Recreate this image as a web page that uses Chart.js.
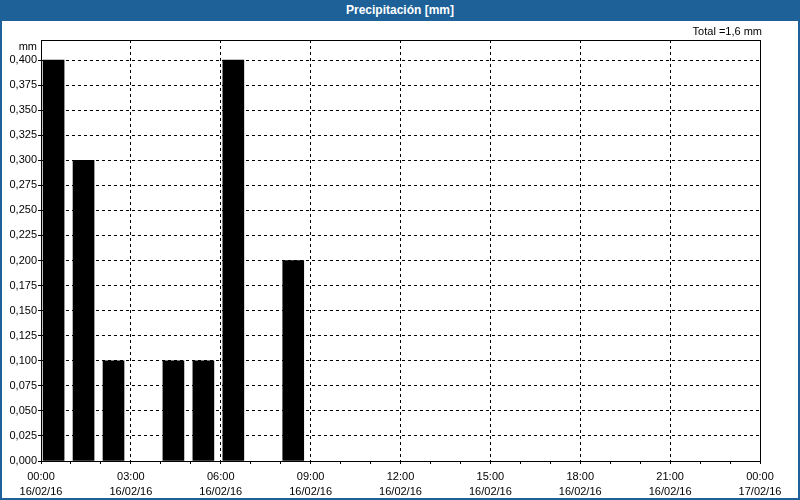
<!DOCTYPE html>
<html>
<head>
<meta charset="utf-8">
<script src="https://cdn.jsdelivr.net/npm/chart.js@4/dist/chart.umd.min.js"></script>
<style>
  html, body { margin: 0; padding: 0; background: #fff; }
  #wrap { position: relative; width: 800px; height: 500px; overflow: hidden; }
  #chart { position: absolute; left: 0; top: 0; }
  #frame {
    position: absolute; left: 0; top: 0; width: 800px; height: 500px; box-sizing: border-box;
    border: 2px solid #1d6198; border-top: 0; pointer-events: none;
  }
  #title {
    position: absolute; left: 0; top: 0; width: 800px; height: 21px; background: #1d6198;
    color: #fff; font: bold 12px "Liberation Sans", Arial, sans-serif; text-align: center; line-height: 21px;
  }
</style>
</head>
<body>
<div id="wrap">
  <canvas id="chart" width="800" height="500"></canvas>
  <div id="frame"></div>
  <div id="title">Precipitación [mm]</div>
</div>
<script>
// hourly rainfall, 16/02/16
const hours = [0, 1, 2, 4, 5, 6, 8]
const rainMm = [0.4, 0.3, 0.1, 0.1, 0.1, 0.4, 0.2]
const timeLabels = ['00:00', '03:00', '06:00', '09:00', '12:00', '15:00', '18:00', '21:00', '00:00']
const dateLabels = ['16/02/16', '16/02/16', '16/02/16', '16/02/16', '16/02/16', '16/02/16', '16/02/16', '16/02/16', '17/02/16']
const totalText = 'Total =1,6 mm'
const unitText = 'mm'

const BAR_SHIFT = 0.42 // bars sit just right of the hour mark
const FONT = '"Liberation Sans", Arial, sans-serif'

const points = hours.map((h, i) => ({x: h + BAR_SHIFT, y: rainMm[i]}))

const frameAndLabels = {
    id: 'frame-and-labels',
    afterDraw(chart) {
        const {ctx, chartArea: a} = chart
        ctx.save()
        ctx.strokeStyle = '#000'
        ctx.lineWidth = 1
        ctx.setLineDash([])
        const top = Math.round(a.top - 0.5) + 0.5
        const right = Math.round(a.right - 0.5) + 0.5
        ctx.beginPath()
        ctx.moveTo(a.left, top)
        ctx.lineTo(right, top)
        ctx.lineTo(right, a.bottom)
        ctx.stroke()

        ctx.fillStyle = '#000'
        ctx.font = '11px ' + FONT
        ctx.textBaseline = 'middle'
        ctx.textAlign = 'right'
        ctx.fillText(totalText, a.right + 2, a.top - 8)
        ctx.fillText(unitText, a.left - 4, a.top + 7)
        ctx.restore()
    },
}

new Chart(document.getElementById('chart'), {
    type: 'bar',
    data: {
        datasets: [{
            data: points,
            backgroundColor: '#000',
            borderWidth: 0,
            barThickness: 21,
        }],
    },
    options: {
        responsive: false,
        animation: false,
        layout: {padding: {left: 0, top: 40, right: 40, bottom: 0}},
        plugins: {
            legend: {display: false},
            tooltip: {enabled: false},
            title: {display: false},
        },
        scales: {
            x: {
                type: 'linear',
                min: 0,
                max: 24,
                offset: false,
                afterFit: s => { s.height = 39 },
                grid: {
                    offset: false,
                    color: c => (c.tick && c.tick.value % 3 === 0) ? '#000' : 'rgba(0,0,0,0)',
                    tickColor: '#000',
                    tickLength: 3,
                    lineWidth: 1,
                },
                border: {color: '#000', width: 1, dash: [3, 3]},
                ticks: {
                    stepSize: 1,
                    maxTicksLimit: 100,
                    autoSkip: false,
                    maxRotation: 0,
                    minRotation: 0,
                    padding: 5,
                    color: '#000',
                    font: {family: FONT, size: 11, lineHeight: '15px'},
                    callback: v => v % 3 === 0 ? [timeLabels[v / 3], dateLabels[v / 3]] : '',
                },
            },
            y: {
                min: 0,
                max: 0.42,
                afterFit: s => { s.width = 41 },
                grid: {color: '#000', tickColor: '#000', tickLength: 3, lineWidth: 1},
                border: {color: '#000', width: 1, dash: [3, 3]},
                ticks: {
                    stepSize: 0.025,
                    maxTicksLimit: 100,
                    includeBounds: false,
                    padding: 1,
                    color: '#000',
                    font: {family: FONT, size: 11},
                    callback: v => v.toFixed(3).replace('.', ','),
                },
            },
        },
    },
    plugins: [frameAndLabels],
})
</script>
</body>
</html>
